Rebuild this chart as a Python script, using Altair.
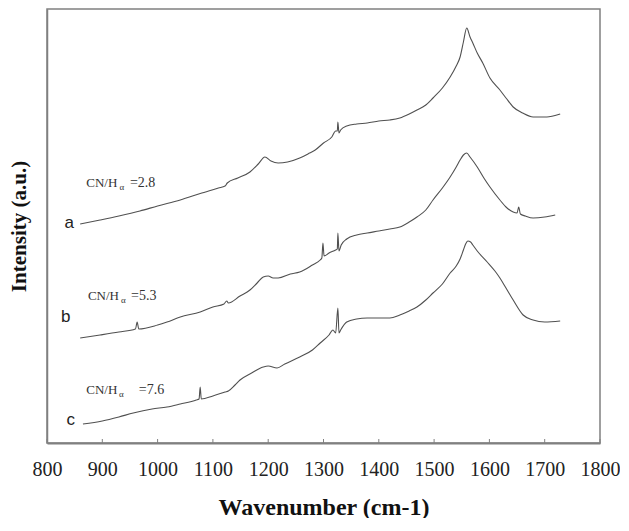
import altair as alt
import pandas as pd

# Curve a (wavenumber, intensity a.u.)
a_w = [860, 896, 930, 968, 1000, 1041, 1080, 1110, 1122, 1126, 1145, 1167, 1182, 1194, 1205, 1218, 1235, 1257,
       1275, 1285, 1300, 1315, 1322, 1325, 1326, 1328, 1331, 1342, 1360, 1379, 1400, 1420, 1438, 1455, 1469,
       1485, 1498, 1515, 1529, 1540, 1547, 1553, 1559, 1565, 1570, 1578, 1588, 1601, 1619, 1630, 1643, 1660,
       1679, 1704, 1715, 1728]
a_y = [224, 220, 216, 211, 206, 200, 193, 188, 186, 183, 178, 172, 164, 157, 161, 163, 162, 158,
       153, 150, 143, 137, 131, 131, 122, 133, 130, 126, 124, 123, 121, 120, 118, 114, 110,
       105, 98, 88, 77, 66, 57, 42, 28, 37, 43, 53, 63, 78, 90, 98, 107, 113,
       117, 117, 116, 114]

# Curve b
b_w = [860, 896, 930, 960, 963, 966, 1000, 1017, 1041, 1077, 1100, 1120, 1125, 1128, 1149, 1167, 1180, 1191,
       1200, 1209, 1218, 1240, 1257, 1280, 1294, 1297, 1299, 1301, 1310, 1322, 1325, 1326, 1328, 1332, 1342,
       1360, 1379, 1400, 1420, 1438, 1455, 1469, 1485, 1498, 1515, 1529, 1540, 1547, 1553, 1559, 1565, 1578,
       1590, 1601, 1619, 1630, 1643, 1650, 1653, 1656, 1665, 1679, 1700, 1719]
b_y = [338, 335, 332, 329, 322, 329, 325, 322, 317, 312, 307, 304, 301, 303, 296, 290, 283, 277,
       276, 278, 278, 274, 272, 265, 260, 258, 243, 256, 253, 250, 249, 233, 251, 245, 239,
       235, 233, 231, 229, 227, 222, 217, 210, 200, 188, 177, 167, 160, 155, 153, 157, 167,
       178, 187, 200, 207, 212, 213, 207, 214, 216, 218, 217, 215]

# Curve c
c_w = [865, 900, 930, 956, 990, 1017, 1041, 1070, 1075, 1077, 1079, 1100, 1122, 1128, 1140, 1149, 1170, 1191,
       1200, 1216, 1230, 1257, 1280, 1294, 1310, 1317, 1322, 1326, 1328, 1331, 1342, 1360, 1379, 1400, 1420,
       1438, 1455, 1469, 1485, 1498, 1515, 1529, 1540, 1547, 1553, 1557, 1561, 1566, 1570, 1578, 1596, 1610,
       1619, 1630, 1643, 1661, 1679, 1700, 1728]
c_y = [424, 421, 417, 413, 409, 407, 404, 400, 399, 387, 399, 396, 392, 391, 385, 380, 373, 367,
       366, 368, 364, 357, 350, 343, 335, 330, 333, 308, 333, 330, 322, 319, 318, 318, 318,
       315, 311, 307, 300, 293, 284, 273, 266, 259, 250, 244, 241, 242, 245, 251, 262, 271,
       278, 288, 300, 315, 320, 322, 321]

BASE = 443  # intensity = BASE - reading

rows = []
for name, ws, ys in [("a", a_w, a_y), ("b", b_w, b_y), ("c", c_w, c_y)]:
    for i, (w, y) in enumerate(zip(ws, ys)):
        rows.append({"series": name, "order": i, "w": w, "I": BASE - y})
df = pd.DataFrame(rows)

# Annotations
letter_text = ["a", "b", "c"]
letter_w = [840, 834, 843]
letter_I = [220, 126, 23]

cn_text = ["CN/H", "CN/H", "CN/H"]
cn_w = [871, 874, 871]
cn_I = [260, 147, 53]
alpha_w = [931, 934, 930]
alpha_I = [256, 143, 49]
val_text = ["=2.8", "=5.3", "=7.6"]
val_w = [950, 952, 966]
val_I = [260, 147, 53]

tick_vals = list(range(800, 1801, 100))

xscale = alt.Scale(domain=[800, 1800], nice=False)
yscale = alt.Scale(domain=[0, 434], nice=False)

serif = "Liberation Serif"

lines = alt.Chart(df).mark_line(color="#505050", strokeWidth=1.1, interpolate="monotone").encode(
    x=alt.X("w:Q", scale=xscale,
            axis=alt.Axis(values=tick_vals, format="d", labelOverlap=False, labelFlush=False,
                          title="Wavenumber (cm-1)", ticks=False, tickSize=0,
                          labelFont=serif, labelFontSize=20, labelColor="#222",
                          labelPadding=16, grid=False, domainColor="#808080", domainWidth=2,
                          titleFont=serif, titleFontSize=24, titleFontWeight="bold",
                          titleColor="#111", titlePadding=16)),
    y=alt.Y("I:Q", scale=yscale,
            axis=alt.Axis(title="Intensity (a.u.)", labels=False, ticks=False, grid=False,
                          domainColor="#808080", domainWidth=1.5,
                          titleFont=serif, titleFontSize=21, titleFontWeight="bold",
                          titleColor="#111", titlePadding=18)),
    detail="series:N",
    order="order:Q",
)

ticks = alt.Chart(pd.DataFrame({"t": tick_vals})).mark_rule(color="#808080", strokeWidth=1).encode(
    x=alt.X("t:Q", scale=xscale),
    y=alt.value(430),
    y2=alt.value(434),
)

letters = alt.Chart(pd.DataFrame({"w": letter_w, "I": letter_I, "t": letter_text})).mark_text(
    font="Liberation Sans", fontSize=17, color="#222", align="center", baseline="middle"
).encode(x=alt.X("w:Q", scale=xscale), y=alt.Y("I:Q", scale=yscale), text="t:N")

cn = alt.Chart(pd.DataFrame({"w": cn_w, "I": cn_I, "t": cn_text})).mark_text(
    font=serif, fontSize=13, color="#333", align="left", baseline="middle"
).encode(x=alt.X("w:Q", scale=xscale), y=alt.Y("I:Q", scale=yscale), text="t:N")

alpha = alt.Chart(pd.DataFrame({"w": alpha_w, "I": alpha_I, "t": ["α"] * 3})).mark_text(
    font=serif, fontSize=9, color="#333", align="left", baseline="middle"
).encode(x=alt.X("w:Q", scale=xscale), y=alt.Y("I:Q", scale=yscale), text="t:N")

vals = alt.Chart(pd.DataFrame({"w": val_w, "I": val_I, "t": val_text})).mark_text(
    font=serif, fontSize=14, color="#333", align="left", baseline="middle"
).encode(x=alt.X("w:Q", scale=xscale), y=alt.Y("I:Q", scale=yscale), text="t:N")

chart = alt.layer(lines, ticks, letters, cn, alpha, vals).properties(
    width=553, height=434,
    autosize=alt.AutoSizeParams(type="none"),
    padding={"left": 39, "top": 1, "right": 20, "bottom": 75},
    background="white",
).configure_view(stroke="#808080", strokeWidth=1.5)

chart.save("out.html", embed_options={"renderer": "svg", "actions": False})
